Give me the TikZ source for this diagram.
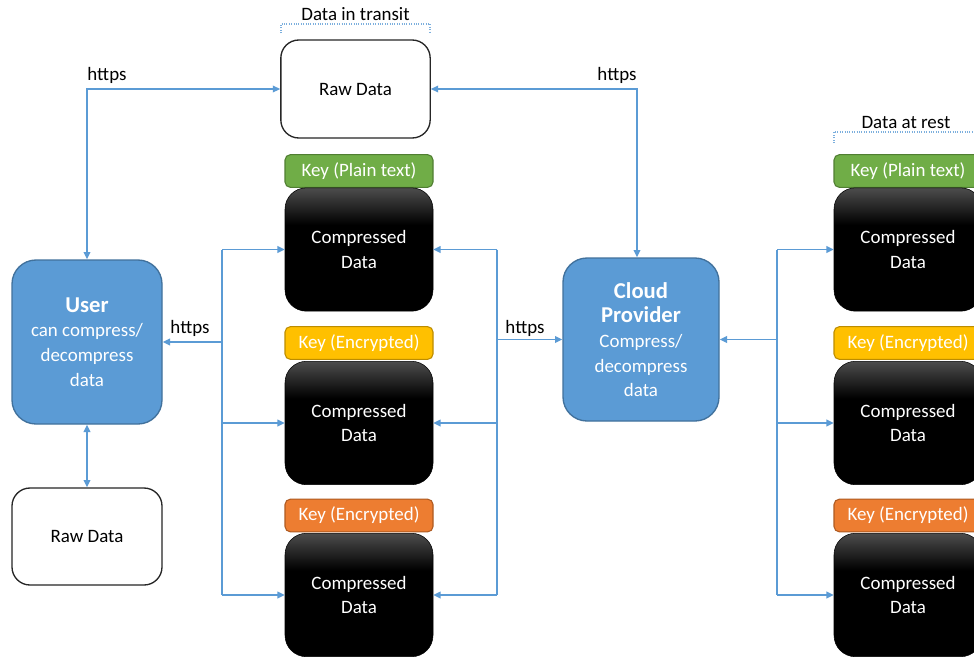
\documentclass[tikz,border=0pt]{standalone}
\usepackage{fontspec}
\setmainfont{Carlito}
\usetikzlibrary{arrows.meta}
\definecolor{ublue}{HTML}{5B9BD5}
\definecolor{ubord}{HTML}{41719C}
\definecolor{lineblue}{HTML}{5B9BD5}
\definecolor{kgreen}{HTML}{70AD47}
\definecolor{kgreenb}{HTML}{507E32}
\definecolor{kyellow}{HTML}{FFC000}
\definecolor{kyellowb}{HTML}{BC8C00}
\definecolor{korange}{HTML}{ED7D31}
\definecolor{korangeb}{HTML}{AE5A21}
\pgfdeclareverticalshading{blkshade}{100bp}{color(0bp)=(black); color(60bp)=(black); color(75bp)=(black!70); color(100bp)=(black!70)}
\newcommand{\bigb}[1]{{\fontsize{17}{19}\selectfont\bfseries #1}}
\begin{document}
\begin{tikzpicture}[x=0.75pt,y=-0.75pt,
  txt/.style={font=\fontsize{14.2}{18.5}\selectfont, align=center, inner sep=0pt},
  rawbox/.style={txt, draw=black!85, line width=1pt, fill=white, rounded corners=13.5pt, minimum width=112pt, minimum height=73.5pt},
  bluebox/.style={txt, draw=ubord, line width=1pt, fill=ublue, text=white, rounded corners=18pt},
  keybox/.style={txt, line width=0.8pt, rounded corners=4pt, text=white, minimum width=111pt, minimum height=24.5pt},
  datbox/.style={txt, shading=blkshade, draw=black, rounded corners=16pt, text=white, minimum width=111pt, minimum height=92.5pt},
  conn/.style={draw=lineblue, line width=1.1pt},
  arr/.style={conn, -{Triangle[length=5.5pt,width=5pt]}},
  darr/.style={conn, {Triangle[length=5.5pt,width=5pt]}-{Triangle[length=5.5pt,width=5pt]}},
  lbl/.style={font=\fontsize{14.2}{17}\selectfont, inner sep=0pt},
  brk/.style={draw=lineblue!80, line width=0.8pt, densely dotted}
]
\useasboundingbox (0,0) rectangle (974,657);
\fill[white] (0,0) rectangle (974,657);

% top raw data and label
\node[rawbox] (rawt) at (355.5,89) {Raw Data};
\node[lbl] (transit) at (355.5,14) {Data in transit};
\draw[brk] (281,33) -- (281,24) -- (430,24) -- (430,33);

% left column of stored data
\node[keybox, fill=kgreen, draw=kgreenb] (k1) at (359,171) {Key (Plain text)};
\node[datbox] (c1) at (359,249.5) {Compressed\\Data};
\node[keybox, fill=kyellow, draw=kyellowb] (k2) at (359,343) {Key (Encrypted)};
\node[datbox] (c2) at (359,423) {Compressed\\Data};
\node[keybox, fill=korange, draw=korangeb] (k3) at (359,515.5) {Key (Encrypted)};
\node[datbox] (c3) at (359,595) {Compressed\\Data};

% user and raw data
\node[bluebox, minimum width=112.5pt, minimum height=123pt] (u) at (87,342)
  {\bigb{User}\\can compress/\\decompress\\data};
\node[rawbox, minimum width=112.5pt, minimum height=72.75pt] (rawb) at (87,536.5) {Raw Data};

% cloud provider
\node[bluebox, minimum width=117pt, minimum height=122.25pt] (cl) at (641,339.5)
  {\bigb{Cloud}\\\bigb{Provider}\\Compress/\\decompress\\data};

% right column (data at rest)
\node[lbl] (rest) at (906,122) {Data at rest};
\draw[brk] (834,143) -- (834,132) -- (990,132);
\node[keybox, fill=kgreen, draw=kgreenb] (rk1) at (908,171) {Key (Plain text)};
\node[datbox] (r1) at (908,249.5) {Compressed\\Data};
\node[keybox, fill=kyellow, draw=kyellowb] (rk2) at (908,343) {Key (Encrypted)};
\node[datbox] (r2) at (908,423) {Compressed\\Data};
\node[keybox, fill=korange, draw=korangeb] (rk3) at (908,515.5) {Key (Encrypted)};
\node[datbox] (r3) at (908,595) {Compressed\\Data};

% bus x positions
\coordinate (xl) at (222,0);
\coordinate (xm) at (497,0);
\coordinate (xr) at (777,0);
\coordinate (xc) at (637,0);

% top https connectors
\draw[darr] (u.north) |- (rawt.west);
\draw[darr] (rawt.east) -| (xc |- cl.north);
\node[lbl] (h1) at (107,75) {https};
\node[lbl] (h2) at (617,75) {https};

% user <-> raw data
\draw[darr] (u.south) -- (rawb.north);

% left bus
\draw[conn] (xl |- c1.west) -- (xl |- c3.west);
\draw[arr] (xl |- c1.west) -- (c1.west);
\draw[arr] (xl |- c2.west) -- (c2.west);
\draw[arr] (xl |- c3.west) -- (c3.west);
\draw[arr] (xl |- u.east) -- (u.east);
\node[lbl] (h3) at (190,328) {https};

% middle bus
\draw[conn] (xm |- c1.east) -- (xm |- c3.east);
\draw[arr] (xm |- c1.east) -- (c1.east);
\draw[arr] (xm |- c2.east) -- (c2.east);
\draw[arr] (xm |- c3.east) -- (c3.east);
\draw[arr] (xm |- cl.west) -- (cl.west);
\node[lbl] (h4) at (525,328) {https};

% right bus
\draw[conn] (xr |- r1.west) -- (xr |- r3.west);
\draw[arr] (xr |- cl.east) -- (cl.east);
\draw[arr] (xr |- r1.west) -- (r1.west);
\draw[arr] (xr |- r2.west) -- (r2.west);
\draw[arr] (xr |- r3.west) -- (r3.west);
\end{tikzpicture}
\end{document}
